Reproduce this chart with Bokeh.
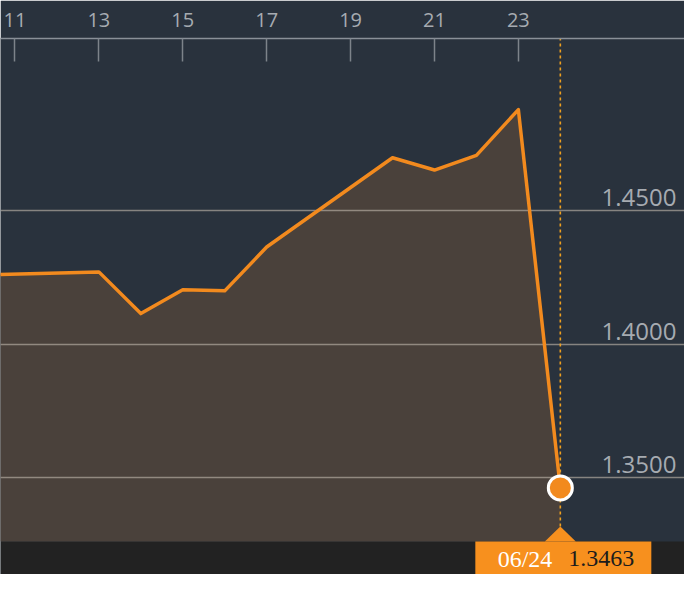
from bokeh.plotting import figure
from bokeh.models import FixedTicker, Range1d
from bokeh.core.properties import value
from bokeh.embed import file_html
from bokeh.resources import INLINE

# ---- data (GBP/USD, June 2016) ----
days = [10, 13, 14, 15, 16, 17, 20, 21, 22, 23, 24]
rates = [1.4258, 1.4271, 1.4115, 1.4204, 1.4200, 1.4364, 1.4698, 1.4652, 1.4707, 1.4878, 1.3463]
x_ticks = [11, 13, 15, 17, 19, 21, 23]
y_ticks = [1.35, 1.40, 1.45]
y_labels = ["1.3500", "1.4000", "1.4500"]
last_date_label = "06/24"
last_value_label = "1.3463"

# ---- styles ----
BG = "#29323d"
AREA = "#4a413b"
STRIP = "#222222"
ORANGE = "#f28a1e"
BOX = "#f7901e"
DOT = "#eea020"
GRID = "#b8b0a6"
LABEL = "#a6abb1"

W, H = 684, 574
TOP = 38
x0, x1 = 10.655, 26.96
y0, y1 = 1.3139, 1.5144
px_x = W / (x1 - x0)
px_y = (H - TOP) / (y1 - y0)

p = figure(width=W, height=H, output_backend="svg", toolbar_location=None,
           x_range=Range1d(x0, x1), y_range=Range1d(y0, y1),
           x_axis_location="above", y_axis_location=None,
           background_fill_color=BG, border_fill_color=BG,
           min_border_left=0, min_border_right=0, min_border_bottom=0,
           min_border_top=TOP)
p.outline_line_color = None
p.grid.visible = False

ax = p.xaxis[0]
ax.ticker = FixedTicker(ticks=x_ticks)
ax.major_tick_in = 23
ax.major_tick_out = 0
ax.minor_tick_line_color = None
ax.major_tick_line_color = "#7d838a"
ax.major_tick_line_width = 1.5
ax.axis_line_color = "#8a9098"
ax.axis_line_width = 1.5
ax.major_label_text_color = LABEL
ax.major_label_text_font = "Open Sans"
ax.major_label_text_font_size = "20px"
ax.major_label_standoff = 12

last_x = days[-1]
last_y = rates[-1]
strip_top = y0 + 33 / px_y

# bottom strip
p.quad(left=[x0], right=[x1], bottom=[y0], top=[strip_top], fill_color=STRIP, line_color=None)

# area
p.varea(x=days, y1=[strip_top] * len(days), y2=rates, fill_color=AREA)

# gridlines
p.hspan(y=y_ticks, line_color=GRID, line_alpha=0.65, line_width=1.5)

# line
p.line(days, rates, line_color=ORANGE, line_width=3.5, line_join="round")

# dotted marker line
apex_y = strip_top + 15 / px_y
p.segment(x0=[last_x], y0=[apex_y], x1=[last_x], y1=[y1], line_color=DOT,
          line_width=1.6, line_dash="3 3")

# label box and pointer
p.quad(left=[last_x - 85 / px_x], right=[last_x + 91 / px_x], bottom=[y0], top=[strip_top],
       fill_color=BOX, line_color=None)
p.patch(x=[last_x - 15.5 / px_x, last_x, last_x + 15.5 / px_x],
        y=[strip_top, apex_y, strip_top], fill_color=BOX, line_color=None)

# last point marker
p.scatter([last_x], [last_y], size=24, fill_color=ORANGE, line_color="white", line_width=3)

# y labels
p.text(x=[x1] * len(y_ticks), y=y_ticks, text=y_labels, x_offset=-8, y_offset=-13,
       text_align="right", text_baseline="alphabetic", text_color=LABEL,
       text_font=value("Open Sans"), text_font_size="24px")

# box texts
p.text(x=[last_x], y=[strip_top], text=[last_date_label], x_offset=-8, y_offset=17,
       text_align="right", text_baseline="middle", text_color="white",
       text_font=value("Liberation Serif"), text_font_size="24px")
p.text(x=[last_x], y=[strip_top], text=[last_value_label], x_offset=8, y_offset=17,
       text_align="left", text_baseline="middle", text_color="#1c1c1c",
       text_font=value("Liberation Serif"), text_font_size="24px")

open("out.html", "w").write(file_html(p, INLINE))
